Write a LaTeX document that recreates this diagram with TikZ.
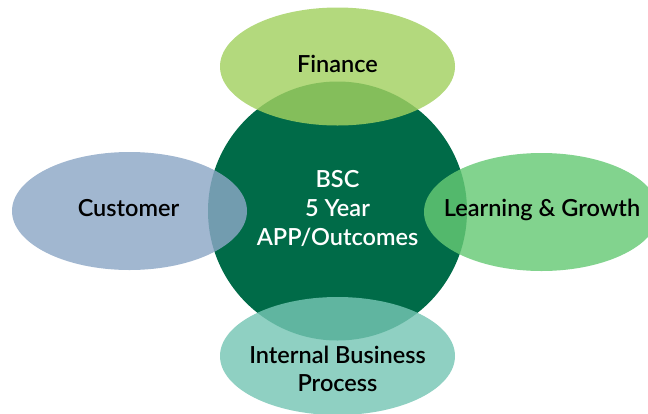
\documentclass[tikz,border=0pt]{standalone}
\usepackage{fontspec}
\setmainfont{Lato-Semibold.ttf}
\usetikzlibrary{shapes.geometric}
\definecolor{bscgreen}{RGB}{0,107,72}
\definecolor{financecol}{RGB}{162,209,96}
\definecolor{customercol}{RGB}{140,167,198}
\definecolor{learningcol}{RGB}{102,201,117}
\definecolor{internalcol}{RGB}{118,198,180}
\tikzset{
  petal/.style={ellipse, minimum width=235pt, minimum height=118pt, fill opacity=0.82, inner sep=0pt},
  petaltext/.style={font=\fontsize{23.5}{27.5}\selectfont, align=center, inner sep=0pt}
}

\begin{document}
\begin{tikzpicture}[x=1pt, y=-1pt]
		\useasboundingbox (0,0) rectangle (648,413);
		\clip (0,0) rectangle (648,413);
		\node[circle, fill=bscgreen, minimum size=259pt] (bsc) at (337.5,211) {};
		\node[petal, fill=financecol] (finance) at (337.5,66.5) {};
		\node[petal, fill=customercol] (customer) at (129.5,211) {};
		\node[petal, fill=learningcol] (learning) at (541.5,212) {};
		\node[petal, fill=internalcol] (internal) at (337.5,356) {};
		% labels
		\node[petaltext, text=white, font=\fontsize{23.5}{29}\selectfont] (bsctext) at ([yshift=3pt]bsc.center) {BSC\\5 Year\\APP/Outcomes};
		\node[petaltext, anchor=base] (financetext) at (337.5,72) {Finance};
		\node[petaltext, anchor=base] (customertext) at (128.5,216) {Customer};
		\node[petaltext, anchor=base] (learningtext) at (542,216) {Learning \& Growth};
		\node[petaltext] (internaltext) at ([yshift=-13pt]internal.center) {Internal Business\\Process};
	\end{tikzpicture}
\end{document}
